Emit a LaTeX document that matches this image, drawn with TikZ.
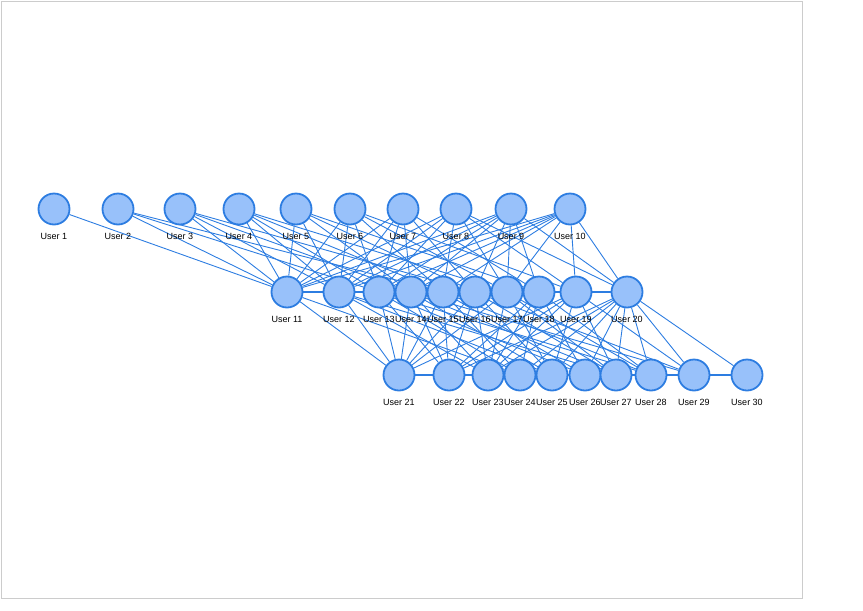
\documentclass[tikz,border=0pt]{standalone}
\usepackage{fontspec}
\setmainfont{Liberation Sans}
\usetikzlibrary{backgrounds}
\definecolor{nodefill}{RGB}{152,193,250}
\definecolor{nodeline}{RGB}{45,125,225}
\definecolor{frameline}{RGB}{204,204,204}
\tikzset{
  user/.style={circle,draw=nodeline,fill=nodefill,line width=1.8pt,minimum size=31pt,inner sep=0pt},
  ulabel/.style={font=\fontsize{9}{10}\selectfont,inner sep=0pt},
  link/.style={draw=nodeline,line width=0.9pt},
  chain/.style={draw=nodeline,line width=1.8pt}
}
\begin{document}
\begin{tikzpicture}[x=1pt,y=-1pt]
\useasboundingbox (0,0) rectangle (863,611);
% row 1
\foreach \n/\x in {1/54,2/118,3/180,4/239,5/296,6/350,7/403,8/456,9/511,10/570}{
  \node[user] (u\n) at (\x,209) {};
  \node[ulabel] (l\n) at (\x,236) {User \n};
}
% row 2
\foreach \n/\x in {11/287,12/339,13/379,14/411,15/443,16/475,17/507,18/539,19/576,20/627}{
  \node[user] (u\n) at (\x,292) {};
  \node[ulabel] (l\n) at (\x,319) {User \n};
}
% row 3
\foreach \n/\x in {21/399,22/449,23/488,24/520,25/552,26/585,27/616,28/651,29/694,30/747}{
  \node[user] (u\n) at (\x,375) {};
  \node[ulabel] (l\n) at (\x,402) {User \n};
}
\begin{scope}[on background layer]
  \node[draw=frameline,line width=1pt,minimum width=801pt,minimum height=597pt,inner sep=0pt,anchor=north west] (frame) at (0.5,0.5) {};
  \foreach \a/\b in {1/11,2/11,2/13,2/15,3/11,3/12,3/14,3/16,4/11,4/12,4/13,4/15,4/17,
    5/11,5/12,5/14,5/16,5/18,6/11,6/12,6/13,6/15,6/17,6/19,7/11,7/12,7/13,7/14,7/16,7/18,
    8/11,8/12,8/13,8/15,8/17,8/19,8/20,9/11,9/12,9/13,9/14,9/16,9/17,9/18,9/20,
    10/11,10/12,10/13,10/14,10/15,10/17,10/19,10/20,
    11/21,11/24,12/21,12/23,12/25,12/27,13/21,13/22,13/24,13/26,13/28,
    14/21,14/22,14/23,14/25,14/27,14/29,15/21,15/22,15/24,15/26,15/28,
    16/21,16/22,16/23,16/25,16/27,16/29,17/21,17/23,17/25,17/27,17/28,
    18/22,18/23,18/24,18/26,18/28,19/21,19/22,19/23,19/25,19/27,19/29,
    20/22,20/23,20/24,20/25,20/26,20/27,20/28,20/29,20/30}{
    \draw[link] (u\a) -- (u\b);
  }
  \foreach \a/\b in {11/12,12/13,13/14,14/15,15/16,16/17,17/18,18/19,19/20,
    21/22,22/23,23/24,24/25,25/26,26/27,27/28,28/29,29/30}{
    \draw[chain] (u\a) -- (u\b);
  }
\end{scope}
\end{tikzpicture}
\end{document}
